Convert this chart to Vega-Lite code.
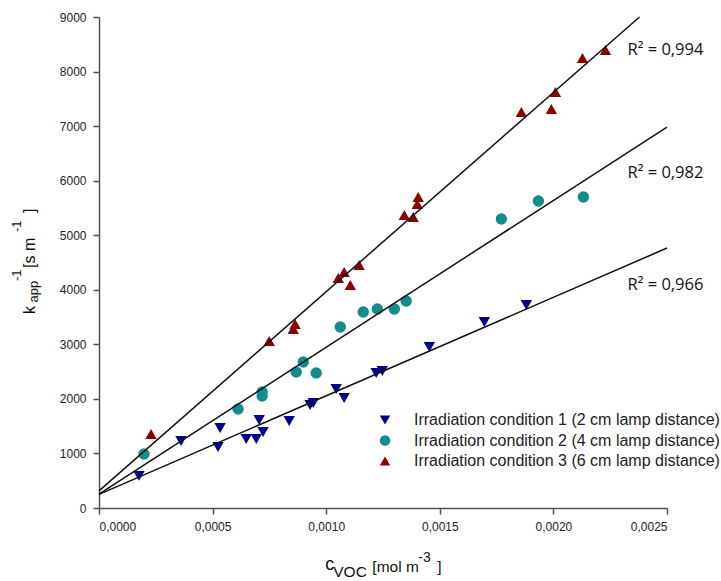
{
  "$schema": "https://vega.github.io/schema/vega-lite/v6.json",
  "width": 568,
  "height": 491,
  "autosize": "none",
  "padding": {"left": 99, "top": 17, "right": 54, "bottom": 73},
  "background": "white",
  "config": {
    "view": {"stroke": null},
    "axis": {
      "grid": false,
      "domainColor": "#505050",
      "domainWidth": 1.5,
      "tickColor": "#505050",
      "tickWidth": 1.5,
      "tickSize": 6,
      "labelFont": "Liberation Sans",
      "labelFontSize": 12,
      "labelColor": "#222222",
      "labelPadding": 7,
      "title": null
    },
    "legend": {
      "orient": "none",
      "legendX": 278,
      "legendY": 395,
      "title": null,
      "labelFont": "Liberation Sans",
      "labelFontSize": 16,
      "labelColor": "#222222",
      "labelOffset": 21,
      "labelLimit": 0,
      "symbolSize": 110,
      "rowPadding": 4.5,
      "symbolStrokeWidth": 0
    }
  },
  "encoding": {
    "x": {
      "field": "x",
      "type": "quantitative",
      "scale": {"domain": [0, 0.0025], "nice": false, "zero": false},
      "axis": {
        "values": [0, 0.0005, 0.001, 0.0015, 0.002, 0.0025],
        "labelExpr": "replace(format(datum.value, '.4f'), '.', ',')"
      }
    },
    "y": {
      "field": "y",
      "type": "quantitative",
      "scale": {"domain": [0, 9000], "nice": false, "zero": false},
      "axis": {"values": [0, 1000, 2000, 3000, 4000, 5000, 6000, 7000, 8000, 9000], "format": "d"}
    }
  },
  "layer": [
    {
      "data": {
        "values": [
          {"condition": "Irradiation condition 1 (2 cm lamp distance)", "x": 0.000176, "y": 590},
          {"condition": "Irradiation condition 1 (2 cm lamp distance)", "x": 0.000361, "y": 1228},
          {"condition": "Irradiation condition 1 (2 cm lamp distance)", "x": 0.000533, "y": 1466},
          {"condition": "Irradiation condition 1 (2 cm lamp distance)", "x": 0.000524, "y": 1118},
          {"condition": "Irradiation condition 1 (2 cm lamp distance)", "x": 0.000648, "y": 1265},
          {"condition": "Irradiation condition 1 (2 cm lamp distance)", "x": 0.000692, "y": 1265},
          {"condition": "Irradiation condition 1 (2 cm lamp distance)", "x": 0.000705, "y": 1613},
          {"condition": "Irradiation condition 1 (2 cm lamp distance)", "x": 0.000722, "y": 1393},
          {"condition": "Irradiation condition 1 (2 cm lamp distance)", "x": 0.000837, "y": 1595},
          {"condition": "Irradiation condition 1 (2 cm lamp distance)", "x": 0.000929, "y": 1888},
          {"condition": "Irradiation condition 1 (2 cm lamp distance)", "x": 0.000943, "y": 1925},
          {"condition": "Irradiation condition 1 (2 cm lamp distance)", "x": 0.001044, "y": 2181},
          {"condition": "Irradiation condition 1 (2 cm lamp distance)", "x": 0.001079, "y": 2016},
          {"condition": "Irradiation condition 1 (2 cm lamp distance)", "x": 0.00122, "y": 2475},
          {"condition": "Irradiation condition 1 (2 cm lamp distance)", "x": 0.001247, "y": 2511},
          {"condition": "Irradiation condition 1 (2 cm lamp distance)", "x": 0.001454, "y": 2951},
          {"condition": "Irradiation condition 1 (2 cm lamp distance)", "x": 0.001696, "y": 3409},
          {"condition": "Irradiation condition 1 (2 cm lamp distance)", "x": 0.001881, "y": 3721},
          {"condition": "Irradiation condition 2 (4 cm lamp distance)", "x": 0.000198, "y": 990},
          {"condition": "Irradiation condition 2 (4 cm lamp distance)", "x": 0.000612, "y": 1815},
          {"condition": "Irradiation condition 2 (4 cm lamp distance)", "x": 0.000718, "y": 2126},
          {"condition": "Irradiation condition 2 (4 cm lamp distance)", "x": 0.000718, "y": 2053},
          {"condition": "Irradiation condition 2 (4 cm lamp distance)", "x": 0.000868, "y": 2493},
          {"condition": "Irradiation condition 2 (4 cm lamp distance)", "x": 0.000899, "y": 2676},
          {"condition": "Irradiation condition 2 (4 cm lamp distance)", "x": 0.000956, "y": 2475},
          {"condition": "Irradiation condition 2 (4 cm lamp distance)", "x": 0.001062, "y": 3318},
          {"condition": "Irradiation condition 2 (4 cm lamp distance)", "x": 0.001163, "y": 3593},
          {"condition": "Irradiation condition 2 (4 cm lamp distance)", "x": 0.001225, "y": 3648},
          {"condition": "Irradiation condition 2 (4 cm lamp distance)", "x": 0.0013, "y": 3648},
          {"condition": "Irradiation condition 2 (4 cm lamp distance)", "x": 0.001352, "y": 3794},
          {"condition": "Irradiation condition 2 (4 cm lamp distance)", "x": 0.001771, "y": 5297},
          {"condition": "Irradiation condition 2 (4 cm lamp distance)", "x": 0.001934, "y": 5627},
          {"condition": "Irradiation condition 2 (4 cm lamp distance)", "x": 0.002132, "y": 5701},
          {"condition": "Irradiation condition 3 (6 cm lamp distance)", "x": 0.000229, "y": 1356},
          {"condition": "Irradiation condition 3 (6 cm lamp distance)", "x": 0.000749, "y": 3061},
          {"condition": "Irradiation condition 3 (6 cm lamp distance)", "x": 0.000855, "y": 3281},
          {"condition": "Irradiation condition 3 (6 cm lamp distance)", "x": 0.000863, "y": 3373},
          {"condition": "Irradiation condition 3 (6 cm lamp distance)", "x": 0.001053, "y": 4216},
          {"condition": "Irradiation condition 3 (6 cm lamp distance)", "x": 0.001079, "y": 4326},
          {"condition": "Irradiation condition 3 (6 cm lamp distance)", "x": 0.001106, "y": 4088},
          {"condition": "Irradiation condition 3 (6 cm lamp distance)", "x": 0.001145, "y": 4454},
          {"condition": "Irradiation condition 3 (6 cm lamp distance)", "x": 0.001344, "y": 5371},
          {"condition": "Irradiation condition 3 (6 cm lamp distance)", "x": 0.001383, "y": 5334},
          {"condition": "Irradiation condition 3 (6 cm lamp distance)", "x": 0.001401, "y": 5572},
          {"condition": "Irradiation condition 3 (6 cm lamp distance)", "x": 0.001405, "y": 5701},
          {"condition": "Irradiation condition 3 (6 cm lamp distance)", "x": 0.001859, "y": 7259},
          {"condition": "Irradiation condition 3 (6 cm lamp distance)", "x": 0.001991, "y": 7314},
          {"condition": "Irradiation condition 3 (6 cm lamp distance)", "x": 0.002009, "y": 7625},
          {"condition": "Irradiation condition 3 (6 cm lamp distance)", "x": 0.002128, "y": 8249},
          {"condition": "Irradiation condition 3 (6 cm lamp distance)", "x": 0.002229, "y": 8395}
        ]
      },
      "mark": {"type": "point", "filled": true, "opacity": 1, "size": 130, "strokeWidth": 0},
      "encoding": {
        "color": {
          "field": "condition",
          "type": "nominal",
          "scale": {
            "domain": ["Irradiation condition 1 (2 cm lamp distance)", "Irradiation condition 2 (4 cm lamp distance)", "Irradiation condition 3 (6 cm lamp distance)"],
            "range": ["#00008B", "#138D8A", "#8B0000"]
          }
        },
        "shape": {
          "field": "condition",
          "type": "nominal",
          "scale": {
            "domain": ["Irradiation condition 1 (2 cm lamp distance)", "Irradiation condition 2 (4 cm lamp distance)", "Irradiation condition 3 (6 cm lamp distance)"],
            "range": ["triangle-down", "circle", "triangle-up"]
          }
        }
      }
    },
    {
      "data": {
        "values": [
          {"fit": "1", "x": 0, "y": 250},
          {"fit": "1", "x": 0.0025, "y": 4765},
          {"fit": "2", "x": 0, "y": 255},
          {"fit": "2", "x": 0.0025, "y": 6983},
          {"fit": "3", "x": 0, "y": 315},
          {"fit": "3", "x": 0.002379, "y": 9000}
        ]
      },
      "mark": {"type": "line", "color": "#111111"},
      "encoding": {
        "detail": {"field": "fit", "type": "nominal"},
        "strokeWidth": {
          "field": "fit",
          "type": "nominal",
          "scale": {"domain": ["1", "2", "3"], "range": [1.5, 1.5, 1]},
          "legend": null
        }
      }
    },
    {
      "data": {
        "values": [
          {"t": "R² = 0,994", "x": 0.002326, "y": 8395},
          {"t": "R² = 0,982", "x": 0.002326, "y": 6141},
          {"t": "R² = 0,966", "x": 0.002326, "y": 4088}
        ]
      },
      "mark": {"type": "text", "align": "left", "baseline": "middle", "font": "Open Sans", "fontSize": 16.5, "color": "#111111"},
      "encoding": {"text": {"field": "t"}}
    },
    {
      "data": {"values": [{"t": "c", "x": 0.000996, "y": -1136}]},
      "mark": {"type": "text", "align": "left", "baseline": "alphabetic", "font": "Liberation Sans", "fontSize": 18, "color": "#111111"},
      "encoding": {"text": {"field": "t"}}
    },
    {
      "data": {"values": [{"t": "VOC", "x": 0.001031, "y": -1265}]},
      "mark": {"type": "text", "align": "left", "baseline": "alphabetic", "font": "Liberation Sans", "fontSize": 15.5, "color": "#111111"},
      "encoding": {"text": {"field": "t"}}
    },
    {
      "data": {"values": [{"t": "[mol m", "x": 0.001203, "y": -1173}, {"t": "]", "x": 0.001489, "y": -1173}]},
      "mark": {"type": "text", "align": "left", "baseline": "alphabetic", "font": "Liberation Sans", "fontSize": 15.5, "color": "#111111"},
      "encoding": {"text": {"field": "t"}}
    },
    {
      "data": {"values": [{"t": "-3", "x": 0.001405, "y": -990}]},
      "mark": {"type": "text", "align": "left", "baseline": "alphabetic", "font": "Liberation Sans", "fontSize": 14, "color": "#111111"},
      "encoding": {"text": {"field": "t"}}
    },
    {
      "data": {"values": [{"t": "k", "x": -0.000282, "y": 3556}, {"t": "[s m", "x": -0.000282, "y": 4399}, {"t": "]", "x": -0.000282, "y": 5407}]},
      "mark": {"type": "text", "align": "left", "baseline": "alphabetic", "angle": 270, "font": "Liberation Sans", "fontSize": 16, "color": "#111111"},
      "encoding": {"text": {"field": "t"}}
    },
    {
      "data": {"values": [{"t": "app", "x": -0.0002665, "y": 3767}]},
      "mark": {"type": "text", "align": "left", "baseline": "alphabetic", "angle": 270, "font": "Liberation Sans", "fontSize": 13, "color": "#111111"},
      "encoding": {"text": {"field": "t"}}
    },
    {
      "data": {"values": [{"t": "-1", "x": -0.0003436, "y": 4161}, {"t": "-1", "x": -0.0003436, "y": 5059}]},
      "mark": {"type": "text", "align": "left", "baseline": "alphabetic", "angle": 270, "font": "Liberation Sans", "fontSize": 13, "color": "#111111"},
      "encoding": {"text": {"field": "t"}}
    }
  ]
}
